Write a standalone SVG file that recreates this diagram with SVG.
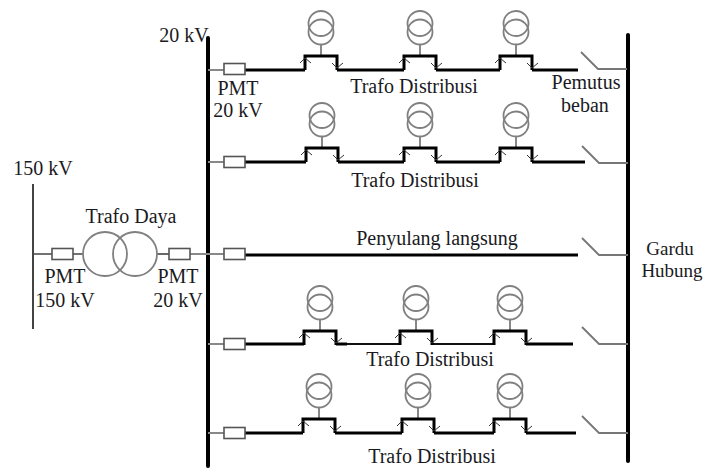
<svg xmlns="http://www.w3.org/2000/svg" xmlns:xlink="http://www.w3.org/1999/xlink" width="707" height="468" viewBox="0 0 707 468">
<style>
text{font-family:"Liberation Serif","Times New Roman",serif;font-size:20px;fill:#1a1a22;text-anchor:middle}
text.tight{font-size:19px}
.bus{fill:none;stroke:#000;stroke-width:4;stroke-linecap:round}
.feed{fill:none;stroke:#000;stroke-width:3;stroke-linejoin:miter}
.feed-thin{fill:none;stroke:#111;stroke-width:2}
.thin{fill:none;stroke:#888;stroke-width:2}
.coil{fill:none;stroke:#808080;stroke-width:1.8}
.box{fill:#fff;stroke:#555;stroke-width:1.6}
.tick{fill:none;stroke:#333;stroke-width:1}
.sw{fill:none;stroke:#777;stroke-width:1.8}
</style>
<defs>
<g id="bay">
<circle class="coil" cx="0" cy="-32.500" r="12.500"/>
<circle class="coil" cx="0" cy="-24" r="12.500"/>
<path class="thin" d="M0-11V-1"/>
<path class="feed" d="M-16 14V0H16V14"/>
<path class="tick" d="M-21 7L-16 2L-10 7M11 7L16 12L22 7"/>
</g>
<g id="pmt"><rect class="box" x="0" y="-5.500" width="21" height="11"/></g>
<path id="switch" class="sw" d="M0 0L17 17H46"/>
</defs>

<g id="connectors">
<path class="bus" d="M208 38V466"/>
<path class="bus" d="M628 35V461"/>
<path d="M33 184V329" fill="none" stroke="#444" stroke-width="2"/>
<path d="M33 254H52M72 254H83" fill="none" stroke="#444" stroke-width="1.600"/>
<path d="M157 254H169" fill="none" stroke="#444" stroke-width="1.600"/>
<path class="thin" d="M190 254H224M208 70H224M208 162H224M208 344H224M208 433H224"/>
<path class="feed" d="M245 70H305M337 70H404M436 70H500M532 70H578"/>
<path class="feed" d="M245 162H306M338 162H404M436 162H500M532 162H585"/>
<path class="feed" d="M245 255H578"/>
<path class="feed" d="M245 344H304M336 344H347M526 344H573"/>
<path class="feed-thin" d="M347 344H400M432 344H494"/>
<path class="feed" d="M245 433H303M335 433H402M434 433H494M526 433H576"/>
</g>

<g id="feeder-1">
<use xlink:href="#pmt" href="#pmt" x="224" y="69"/>
<use xlink:href="#bay" href="#bay" x="321" y="56"/>
<use xlink:href="#bay" href="#bay" x="420" y="56"/>
<use xlink:href="#bay" href="#bay" x="516" y="56"/>
<use xlink:href="#switch" href="#switch" x="581" y="52"/>
</g>
<g id="feeder-2">
<use xlink:href="#pmt" href="#pmt" x="224" y="162"/>
<use xlink:href="#bay" href="#bay" x="322" y="148"/>
<use xlink:href="#bay" href="#bay" x="420" y="148"/>
<use xlink:href="#bay" href="#bay" x="516" y="148"/>
<use xlink:href="#switch" href="#switch" x="582" y="146"/>
</g>
<g id="feeder-3">
<use xlink:href="#pmt" href="#pmt" x="224" y="254"/>
<use xlink:href="#switch" href="#switch" x="582" y="238"/>
</g>
<g id="feeder-4">
<use xlink:href="#pmt" href="#pmt" x="224" y="344"/>
<use xlink:href="#bay" href="#bay" x="320" y="331"/>
<use xlink:href="#bay" href="#bay" x="416" y="331"/>
<use xlink:href="#bay" href="#bay" x="510" y="331"/>
<use xlink:href="#switch" href="#switch" x="582" y="327"/>
</g>
<g id="feeder-5">
<use xlink:href="#pmt" href="#pmt" x="224" y="433"/>
<use xlink:href="#bay" href="#bay" x="319" y="419"/>
<use xlink:href="#bay" href="#bay" x="418" y="419"/>
<use xlink:href="#bay" href="#bay" x="510" y="419"/>
<use xlink:href="#switch" href="#switch" x="582" y="416"/>
</g>
<g id="trafo-daya">
<use xlink:href="#pmt" href="#pmt" x="52" y="254"/>
<circle class="coil" cx="105" cy="254" r="22"/>
<circle class="coil" cx="135" cy="254" r="22"/>
<use xlink:href="#pmt" href="#pmt" x="169" y="254"/>
</g>

<g id="labels">
<text x="184" y="42">20 kV</text>
<text x="238" y="95">PMT</text>
<text x="238" y="117">20 kV</text>
<text x="414" y="93">Trafo Distribusi</text>
<text x="586" y="89">Pemutus</text>
<text x="585" y="112">beban</text>
<text x="415" y="187">Trafo Distribusi</text>
<text x="43" y="175">150 kV</text>
<text x="131" y="223">Trafo Daya</text>
<text x="65" y="283">PMT</text>
<text x="65" y="307">150 kV</text>
<text x="178" y="283">PMT</text>
<text x="178" y="307">20 kV</text>
<text x="437" y="245">Penyulang langsung</text>
<text class="tight" x="670" y="255">Gardu</text>
<text class="tight" x="672" y="277">Hubung</text>
<text x="430" y="366">Trafo Distribusi</text>
<text x="432" y="463">Trafo Distribusi</text>
</g>
</svg>
